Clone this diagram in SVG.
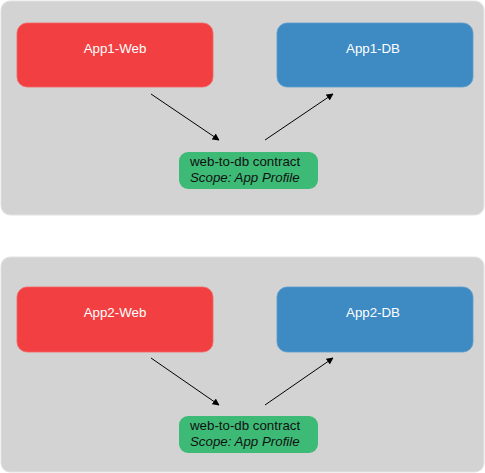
<svg xmlns="http://www.w3.org/2000/svg" width="485" height="473" viewBox="0 0 485 473">
<defs>
<style>
.panel{fill:#d3d3d3;stroke:#e2e2e2;stroke-width:1}
.web{fill:#f24042;stroke:#f36566;stroke-width:0.8}
.db{fill:#3e8bc4;stroke:#5b9dcd;stroke-width:0.8}
.contract{fill:#3dba76}
.lbl{font-family:"Liberation Sans",Arial,sans-serif;font-size:13.3px;fill:#ffffff;text-anchor:middle}
.ct{font-family:"Liberation Sans",Arial,sans-serif;font-size:13.3px;fill:#111111}
.it{font-style:italic}
.conn{stroke:#000;stroke-width:1;fill:none;marker-end:url(#ah)}
</style>
<marker id="ah" viewBox="0 0 10 10" refX="9" refY="5" markerWidth="7" markerHeight="7" orient="auto" markerUnits="userSpaceOnUse">
<path d="M0,0 L10,5 L0,10 z" fill="#000"/>
</marker>
</defs>
<g id="panel1"><rect class="panel" x="1" y="1" width="483" height="214" rx="9"/></g>
<g id="panel2"><rect class="panel" x="1" y="257" width="483" height="215" rx="9"/></g>
<g id="app1-web"><rect class="web" x="17" y="23" width="196" height="64" rx="10"/><text class="lbl" x="115" y="53">App1-Web</text></g>
<g id="app1-db"><rect class="db" x="277" y="23" width="196" height="64" rx="10"/><text class="lbl" x="373" y="53">App1-DB</text></g>
<g id="contract1"><rect class="contract" x="179" y="152" width="139" height="37" rx="9"/><text class="ct" x="190" y="166">web-to-db contract</text><text class="ct it" x="190" y="182">Scope: App Profile</text></g>
<g id="app2-web"><rect class="web" x="17" y="287" width="196" height="65" rx="10"/><text class="lbl" x="115" y="317">App2-Web</text></g>
<g id="app2-db"><rect class="db" x="277" y="287" width="196" height="65" rx="10"/><text class="lbl" x="373" y="317">App2-DB</text></g>
<g id="contract2"><rect class="contract" x="179" y="416" width="139" height="37" rx="9"/><text class="ct" x="190" y="430">web-to-db contract</text><text class="ct it" x="190" y="446">Scope: App Profile</text></g>
<g id="connectors">
<line class="conn" x1="151" y1="94" x2="219" y2="140"/>
<line class="conn" x1="265" y1="140" x2="333" y2="94"/>
<line class="conn" x1="151" y1="358" x2="219" y2="405"/>
<line class="conn" x1="265" y1="405" x2="333" y2="358"/>
</g>
</svg>
